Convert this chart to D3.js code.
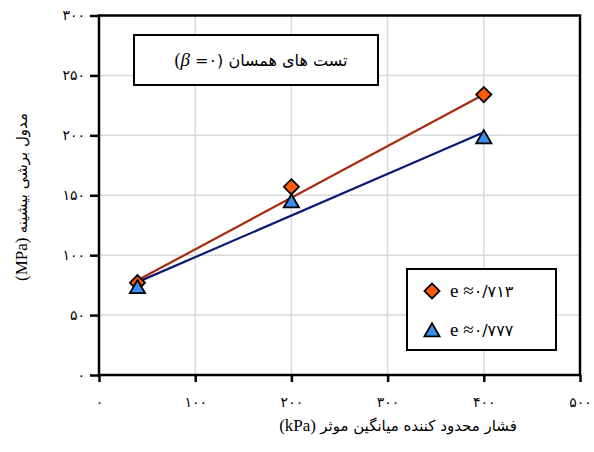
<!DOCTYPE html>
<html><head><meta charset="utf-8">
<script src="https://cdn.jsdelivr.net/npm/d3@7"></script>
<style>
html,body{margin:0;padding:0;background:#fff;}
svg{display:block;}
text{font-family:"DejaVu Sans",sans-serif;}
.lat{font-family:"Liberation Serif",serif;}
</style></head>
<body>
<svg id="chart" width="594" height="452"></svg>
<script>
// ---- data ----
const pressure = [40, 200, 400];
const seriesA = [77, 157, 234];   // e ≈ 0.713 (diamonds)
const seriesB = [72, 143.5, 197]; // e ≈ 0.777 (triangles)
const fitX = [40, 400];
const fitA = [79, 234];
const fitB = [77.5, 202.5];
const xTicks = [0, 100, 200, 300, 400, 500];
const yTicks = [0, 50, 100, 150, 200, 250, 300];
const seriesNames = [["e ≈", "۰/۷۱۳"], ["e ≈", "۰/۷۷۷"]];
const xTitle = ["(kPa) ", "فشار محدود کننده میانگین موثر"];
const yTitle = ["(MPa) ", "مدول برشی بیشینه"];
const chartTitle = ["(", "β", " =۰) ", "تست های همسان"];

const fa = n => String(n).replace(/\d/g, d => "۰۱۲۳۴۵۶۷۸۹"[+d]);

const svg = d3.select("#chart");
const x = d3.scaleLinear().domain([0, 500]).range([99, 580]);
const y = d3.scaleLinear().domain([0, 300]).range([375, 15.5]);

// grid
svg.append("g").selectAll("line").data(xTicks.slice(1, -1)).join("line")
  .attr("x1", d => x(d)).attr("x2", d => x(d)).attr("y1", y(0)).attr("y2", y(300))
  .attr("stroke", "#d9d9d9").attr("stroke-width", 1.5);
svg.append("g").selectAll("line").data(yTicks.slice(1, -1)).join("line")
  .attr("y1", d => y(d)).attr("y2", d => y(d)).attr("x1", x(0)).attr("x2", x(500))
  .attr("stroke", "#d9d9d9").attr("stroke-width", 1.5);

// axes
const xAxis = svg.append("g").attr("transform", `translate(0,${y(0)})`)
  .call(d3.axisBottom(x).tickValues(xTicks).tickFormat(fa).tickSize(7).tickPadding(15));
const yAxis = svg.append("g").attr("transform", `translate(${x(0)},0)`)
  .call(d3.axisLeft(y).tickValues(yTicks).tickFormat(fa).tickSize(9).tickPadding(5));
[xAxis, yAxis].forEach(g => {
  g.select(".domain").remove();
  g.selectAll(".tick line").attr("stroke", "#000").attr("stroke-width", 2.5);
  g.selectAll(".tick text").attr("font-family", "DejaVu Sans").attr("font-size", 14).attr("fill", "#000");
});

// frame
svg.append("rect").attr("x", x(0)).attr("y", y(300)).attr("width", x(500) - x(0)).attr("height", y(0) - y(300))
  .attr("fill", "none").attr("stroke", "#000").attr("stroke-width", 2.5);

// fit lines
const line = d3.line().x(d => x(d[0])).y(d => y(d[1]));
svg.append("path").datum(fitX.map((v, i) => [v, fitA[i]])).attr("d", line)
  .attr("fill", "none").attr("stroke", "#a52a0e").attr("stroke-width", 2.2);
svg.append("path").datum(fitX.map((v, i) => [v, fitB[i]])).attr("d", line)
  .attr("fill", "none").attr("stroke", "#0c1a72").attr("stroke-width", 2.2);

// markers
const diamond = d3.symbol().type(d3.symbolSquare).size(115);
const tri = d3.symbol().type(d3.symbolTriangle).size(100);
svg.append("g").selectAll("path").data(pressure.map((v, i) => [v, seriesA[i]])).join("path")
  .attr("d", diamond).attr("transform", d => `translate(${x(d[0])},${y(d[1])}) rotate(45)`)
  .attr("fill", "#ff5a0a").attr("stroke", "#000").attr("stroke-width", 1.8);
svg.append("g").selectAll("path").data(pressure.map((v, i) => [v, seriesB[i]])).join("path")
  .attr("d", tri).attr("transform", d => `translate(${x(d[0])},${y(d[1])})`)
  .attr("fill", "#3a8ef0").attr("stroke", "#000").attr("stroke-width", 1.8);

function mixed(sel, parts, styles) {
  parts.forEach((p, i) => {
    const t = sel.append("tspan").text(p);
    const s = styles[i];
    if (s.lat) t.attr("class", "lat");
    if (s.size) t.attr("font-size", s.size);
    if (s.italic) t.attr("font-style", "italic");
  });
  return sel;
}

// title box
svg.append("rect").attr("x", 134).attr("y", 35).attr("width", 244).attr("height", 50)
  .attr("fill", "#fff").attr("stroke", "#000").attr("stroke-width", 2);
mixed(svg.append("text").attr("x", 261).attr("y", 60).attr("dy", "0.35em").attr("text-anchor", "middle")
  .attr("direction", "ltr").attr("font-size", 16), chartTitle,
  [{lat: true, size: 18}, {lat: true, italic: true, size: 19}, {size: 16}, {size: 16}]);

// legend
svg.append("rect").attr("x", 407).attr("y", 269).attr("width", 149).attr("height", 81)
  .attr("fill", "#fff").attr("stroke", "#000").attr("stroke-width", 2);
const leg = svg.append("g");
leg.append("path").attr("d", diamond).attr("transform", "translate(432,291) rotate(45)")
  .attr("fill", "#ff5a0a").attr("stroke", "#000").attr("stroke-width", 1.8);
leg.append("path").attr("d", tri).attr("transform", "translate(432,332)")
  .attr("fill", "#3a8ef0").attr("stroke", "#000").attr("stroke-width", 1.8);
seriesNames.forEach((nm, i) => {
  mixed(leg.append("text").attr("x", 450).attr("y", i === 0 ? 291 : 330).attr("dy", "0.35em")
    .attr("direction", "ltr"), nm, [{lat: true, size: 19}, {size: 16}]);
});

// axis titles
mixed(svg.append("text").attr("x", 398).attr("y", 431).attr("text-anchor", "middle")
  .attr("direction", "ltr"), xTitle, [{lat: true, size: 17}, {size: 15}]);
mixed(svg.append("text").attr("transform", "translate(27,197) rotate(-90)").attr("text-anchor", "middle")
  .attr("direction", "ltr"), yTitle, [{lat: true, size: 17}, {size: 15}]);
</script>
</body></html>
